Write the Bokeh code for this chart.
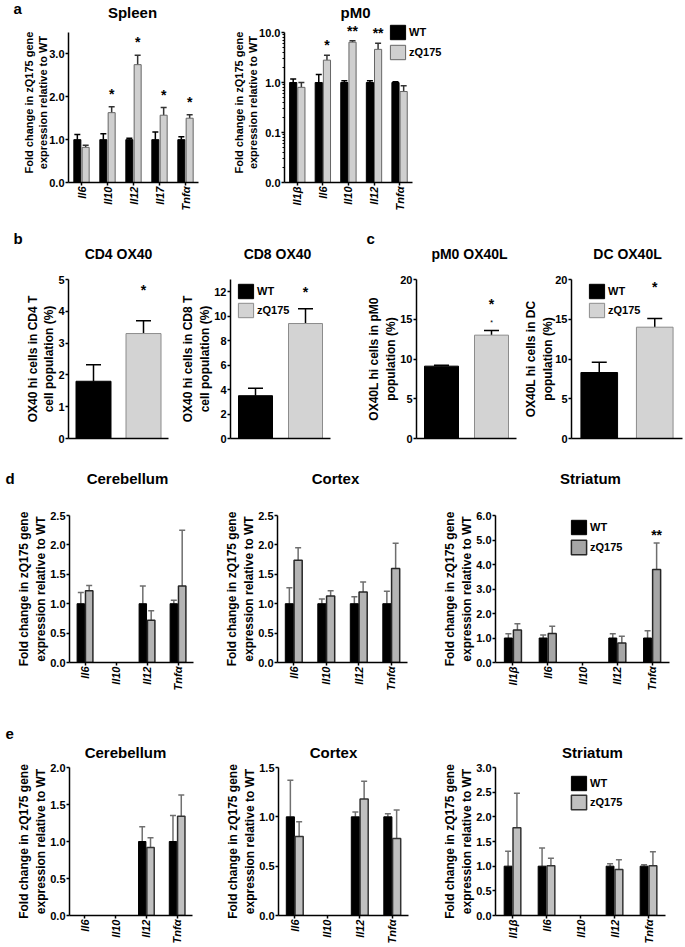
import math
from bokeh.plotting import figure
from bokeh.models import (FactorRange, Range1d, ColumnDataSource, Whisker, TeeHead, Label,
                          LabelSet, Legend, LegendItem, FixedTicker, NumeralTickFormatter)
from bokeh.transform import dodge
from bokeh.layouts import column, row
from bokeh.core.properties import value
from bokeh.embed import file_html
from bokeh.resources import INLINE

FONT = "Liberation Sans"

# ---------------- data ----------------
spleen_genes = ["Il6", "Il10", "Il12", "Il17", "Tnfα"]
spleen_wt = [1.0, 1.0, 1.0, 1.0, 1.0]
spleen_wt_err = [0.12, 0.14, 0.03, 0.18, 0.07]
spleen_zq = [0.82, 1.63, 2.75, 1.57, 1.50]
spleen_zq_err = [0.05, 0.14, 0.22, 0.18, 0.08]
spleen_sig = ["", "*", "*", "*", "*"]

pm0_genes = ["Il1β", "Il6", "Il10", "Il12", "Tnfα"]
pm0_wt = [1.0, 1.0, 1.0, 1.0, 1.0]
pm0_wt_err = [0.18, 0.45, 0.08, 0.08, 0.03]
pm0_zq = [0.80, 2.80, 6.40, 4.60, 0.66]
pm0_zq_err = [0.20, 0.70, 0.40, 1.50, 0.20]
pm0_sig = ["", "*", "**", "**", ""]

groups = ["WT", "zQ175"]
cd4_vals = [1.8, 3.3]
cd4_err = [0.52, 0.40]
cd8_vals = [3.5, 9.4]
cd8_err = [0.60, 1.20]
pm0l_vals = [9.1, 13.0]
pm0l_err = [0.12, 0.60]
dc_vals = [8.3, 14.0]
dc_err = [1.3, 1.1]
bc_sig = ["", "*"]

brain4_genes = ["Il6", "Il10", "Il12", "Tnfα"]
brain5_genes = ["Il1β", "Il6", "Il10", "Il12", "Tnfα"]

d_cer_wt = [1.0, None, 1.0, 1.0]
d_cer_wt_err = [0.19, None, 0.30, 0.06]
d_cer_zq = [1.22, None, 0.72, 1.30]
d_cer_zq_err = [0.09, None, 0.16, 0.95]

d_cor_wt = [1.0, 1.0, 1.0, 1.0]
d_cor_wt_err = [0.27, 0.08, 0.12, 0.21]
d_cor_zq = [1.74, 1.13, 1.20, 1.60]
d_cor_zq_err = [0.21, 0.09, 0.17, 0.43]

d_str_wt = [1.0, 1.0, None, 1.0, 1.0]
d_str_wt_err = [0.17, 0.12, None, 0.17, 0.30]
d_str_zq = [1.33, 1.18, None, 0.80, 3.80]
d_str_zq_err = [0.25, 0.30, None, 0.27, 1.08]
d_str_sig = ["", "", "", "", "**"]

e_cer_wt = [None, None, 1.0, 1.0]
e_cer_wt_err = [None, None, 0.20, 0.35]
e_cer_zq = [None, None, 0.92, 1.34]
e_cer_zq_err = [None, None, 0.13, 0.29]

e_cor_wt = [1.0, None, 1.0, 1.0]
e_cor_wt_err = [0.37, None, 0.05, 0.03]
e_cor_zq = [0.80, None, 1.18, 0.78]
e_cor_zq_err = [0.15, None, 0.18, 0.29]

e_str_wt = [1.0, 1.0, None, 1.0, 1.0]
e_str_wt_err = [0.30, 0.37, None, 0.05, 0.03]
e_str_zq = [1.78, 1.01, None, 0.93, 1.01]
e_str_zq_err = [0.70, 0.15, None, 0.20, 0.28]

FOLD_LABEL = "Fold change in zQ175 gene\nexpression relative to WT"
PAGE_W = 684
STANDOFF = -1


# ---------------- helpers ----------------
def base_fig(x_range, geo, y_range, y_type="linear", ylabel=None, ylabel_size="12px",
             label_standoff=STANDOFF):
    x0, x1, fl, fr, top, bot, ft, fb = geo
    p = figure(x_range=x_range, y_range=y_range, y_axis_type=y_type,
               width=x1 - x0, height=bot - top,
               min_border_left=fl - x0, min_border_right=x1 - fr,
               min_border_top=ft - top, min_border_bottom=bot - fb,
               title=None, output_backend="svg", toolbar_location=None, tools="")
    p.outline_line_color = None
    p.xgrid.visible = False
    p.ygrid.visible = False
    p.background_fill_color = "white"
    p.border_fill_color = "white"
    for ax in (p.xaxis[0], p.yaxis[0]):
        ax.axis_line_width = 1.5
        ax.axis_line_color = "black"
        ax.major_tick_line_width = 1.5
        ax.major_tick_line_color = "black"
        ax.major_tick_in = 0
        ax.major_tick_out = 3
        ax.minor_tick_line_color = None
        ax.major_label_text_font = FONT
        ax.major_label_text_font_style = "bold"
        ax.major_label_text_font_size = "11px"
        ax.major_label_text_color = "black"
        ax.major_label_standoff = 1
    p.xaxis.major_label_orientation = math.pi / 2
    p.xaxis.major_label_text_font_style = "bold italic"
    if ylabel:
        p.yaxis.axis_label = ylabel
        p.yaxis.axis_label_text_font = FONT
        p.yaxis.axis_label_text_font_style = "bold"
        p.yaxis.axis_label_text_font_size = ylabel_size
        p.yaxis.axis_label_text_color = "black"
        p.yaxis.axis_label_standoff = label_standoff
    return p


def strip(top, bottom, texts):
    h = bottom - top
    s = figure(width=PAGE_W, height=h, x_range=Range1d(0, PAGE_W), y_range=Range1d(h, 0),
               x_axis_location=None, y_axis_location=None, min_border=0, title=None,
               output_backend="svg", toolbar_location=None, tools="")
    s.grid.visible = False
    s.outline_line_color = None
    s.background_fill_color = "white"
    s.border_fill_color = "white"
    for txt, px, py, size, align in texts:
        s.add_layout(Label(x=px, y=py - top, text=txt, text_align=align, text_baseline="middle",
                           text_font=FONT, text_font_size=size, text_font_style="bold",
                           text_color="black"))
    return s


def add_legend(p, geo, items, left, bottom, spacing):
    x0, x1, fl, fr, top, bot, ft, fb = geo
    lg = Legend(items=items, location=(left - fl, fb - bottom), orientation="vertical",
                padding=0, margin=0, spacing=spacing, glyph_width=19, glyph_height=18,
                label_height=18, label_standoff=2, border_line_color=None,
                background_fill_alpha=0, label_text_font=FONT, label_text_font_style="bold",
                label_text_font_size="11px", label_text_color="black")
    p.add_layout(lg)


def gene_panel(geo, genes, wt, wt_err, zq, zq_err, y_range, ticks, ylabel, off, bw,
               zq_fill, zq_line, bar_lw, wt_err_color, zq_err_color, cap,
               y_type="linear", fmt="0.0", sig=None, sig_off=0, ylabel_size="12px",
               bottom=0, label_standoff=STANDOFF, extra_factors=0):
    factors = list(genes) + ["_%d" % k for k in range(extra_factors)]
    p = base_fig(FactorRange(factors=factors), geo, y_range, y_type, ylabel, ylabel_size,
                 label_standoff)
    if extra_factors:
        p.xaxis.bounds = (0, len(genes))
        p.xaxis.major_label_overrides = {f: "" for f in factors[len(genes):]}
    keep = [i for i, v in enumerate(wt) if v is not None]
    src = ColumnDataSource(dict(
        cat=[genes[i] for i in keep],
        wt=[wt[i] for i in keep],
        wt_hi=[wt[i] + wt_err[i] for i in keep],
        zq=[zq[i] for i in keep],
        zq_hi=[zq[i] + zq_err[i] for i in keep],
    ))
    r1 = p.vbar(x=dodge("cat", -off, range=p.x_range), top="wt", bottom=bottom, width=bw,
                source=src, fill_color="black", line_color="black", line_width=1)
    r2 = p.vbar(x=dodge("cat", off, range=p.x_range), top="zq", bottom=bottom, width=bw,
                source=src, fill_color=zq_fill, line_color=zq_line, line_width=bar_lw)
    for o, lo, hi, col in ((-off, "wt", "wt_hi", wt_err_color), (off, "zq", "zq_hi", zq_err_color)):
        w = Whisker(base=dodge("cat", o, range=p.x_range), lower=lo, upper=hi, source=src,
                    dimension="height", line_color=col, line_width=1.5, lower_head=None,
                    upper_head=TeeHead(size=cap, line_color=col, line_width=1.5))
        p.add_layout(w)
    if y_type == "linear":
        p.yaxis.ticker = FixedTicker(ticks=ticks)
        p.yaxis.formatter = NumeralTickFormatter(format=fmt)
    if sig is not None:
        sk = [i for i, s in enumerate(sig) if s]
        ssrc = ColumnDataSource(dict(cat=[genes[i] for i in sk],
                                     hi=[zq[i] + zq_err[i] for i in sk],
                                     txt=[sig[i] for i in sk]))
        p.add_layout(LabelSet(x=dodge("cat", off, range=p.x_range), y="hi", text="txt",
                              source=ssrc, y_offset=sig_off, text_align="center",
                              text_baseline="middle", text_font=value(FONT),
                              text_font_size="14px", text_font_style="bold",
                              text_color="black"))
    return p, r1, r2


def group_panel(geo, vals, errs, y_max, ticks, ylabel, bw, cap, sig_off,
                label_standoff=STANDOFF, extra_mark=None):
    p = base_fig(FactorRange(factors=groups), geo, Range1d(0, y_max), "linear", ylabel,
                 "12px", label_standoff)
    src = ColumnDataSource(dict(cat=groups, val=vals, hi=[v + e for v, e in zip(vals, errs)],
                                fill=["black", "#d3d3d3"], line=["black", "#8c8c8c"]))
    r = p.vbar(x="cat", top="val", width=bw, source=src, fill_color="fill", line_color="line",
               line_width=1)
    p.add_layout(Whisker(base="cat", lower="val", upper="hi", source=src, dimension="height",
                         line_color="black", line_width=1.5, lower_head=None,
                         upper_head=TeeHead(size=cap, line_color="black", line_width=1.5)))
    p.yaxis.ticker = FixedTicker(ticks=ticks)
    p.xaxis.ticker = FixedTicker(ticks=[])
    p.xaxis.major_tick_line_color = None
    sk = [i for i, s in enumerate(bc_sig) if s]
    ssrc = ColumnDataSource(dict(cat=[groups[i] for i in sk],
                                 hi=[vals[i] + errs[i] for i in sk],
                                 sig=[bc_sig[i] for i in sk]))
    p.add_layout(LabelSet(x="cat", y="hi", text="sig", source=ssrc, y_offset=sig_off,
                          text_align="center", text_baseline="middle", text_font=value(FONT),
                          text_font_size="14px", text_font_style="bold", text_color="black"))
    if extra_mark is not None:
        p.add_layout(LabelSet(x="cat", y="hi", text="sig", source=ssrc, y_offset=extra_mark,
                              text_align="center", text_baseline="middle",
                              text_font=value(FONT), text_font_size="7px",
                              text_color="black"))
    items = [LegendItem(label=groups[0], renderers=[r], index=0),
             LegendItem(label=groups[1], renderers=[r], index=1)]
    return p, items


# ---------------- geometry (page pixels) ----------------
# (fig left, fig right, frame left, frame right, row top, row bottom, frame top, frame bottom)
G_SPL = (0, 220, 68, 198, 22, 230, 22, 182)
G_PM0 = (220, 470, 284, 463, 22, 230, 22, 182)
G_CD4 = (0, 178, 68, 168, 268, 470, 279, 438)
G_CD8 = (178, 345, 225, 330, 268, 470, 279, 438)
G_PML = (345, 521, 416, 516, 268, 470, 279, 438)
G_DC = (521, 684, 565, 682, 268, 470, 279, 438)
G_DCE = (0, 215, 69, 193, 490, 705, 515, 662)
G_DCO = (215, 440, 277, 407, 490, 705, 515, 662)
G_DST = (440, 684, 494, 669, 490, 705, 515, 662)
G_ECE = (0, 215, 69, 192, 762, 946, 767, 917)
G_ECO = (215, 440, 278, 408, 762, 946, 767, 917)
G_EST = (440, 684, 492, 665, 762, 946, 767, 917)

# ---------------- panel a ----------------
strip_a = strip(0, 22, [("a", 13, 8, "15px", "left"),
                        ("Spleen", 132, 12, "15px", "center"),
                        ("pM0", 355, 12, "15px", "center")])

# frame runs 10 px above the 3.5 axis top (so both panel-a frames share one top edge)
p_spl, _, _ = gene_panel(G_SPL, spleen_genes, spleen_wt, spleen_wt_err, spleen_zq, spleen_zq_err,
                         Range1d(0, 3.5 * 160 / 150), [0, 1, 2, 3], FOLD_LABEL, 0.16, 0.27,
                         "#cfcfcf", "#666666", 1, "black", "#333333", 6,
                         sig=spleen_sig, sig_off=13, ylabel_size="11px", label_standoff=-3)
p_spl.yaxis.bounds = (0, 3.5)

p_pm0, r1, r2 = gene_panel(G_PM0, pm0_genes, pm0_wt, pm0_wt_err, pm0_zq, pm0_zq_err,
                           Range1d(0.01, 10 ** 1.2), None, FOLD_LABEL, 0.16, 0.28,
                           "#cfcfcf", "#666666", 1, "black", "#333333", 6,
                           y_type="log", sig=pm0_sig, sig_off=10, ylabel_size="11px",
                           bottom=0.01, extra_factors=2, label_standoff=-3)
p_pm0.yaxis.bounds = (0.01, 10)
p_pm0.yaxis.ticker = FixedTicker(
    ticks=[0.01, 0.1, 1, 10],
    minor_ticks=[k * 10.0 ** e for e in (-2, -1, 0) for k in range(2, 10)])
p_pm0.yaxis.major_label_overrides = {0.01: "0.0", 0.1: "0.1", 1: "1.0", 10: "10.0"}
p_pm0.yaxis.minor_tick_line_color = "black"
p_pm0.yaxis.minor_tick_out = 2
p_pm0.yaxis.minor_tick_in = 0
add_legend(p_pm0, G_PM0, [LegendItem(label="WT", renderers=[r1]),
                          LegendItem(label="zQ175", renderers=[r2])], 388, 61, 2)

# ---------------- panels b, c ----------------
strip_b = strip(230, 268, [("b", 13, 238, "15px", "left"),
                           ("c", 366, 238, "15px", "left"),
                           ("CD4 OX40", 118, 253, "14px", "center"),
                           ("CD8 OX40", 277, 253, "14px", "center"),
                           ("pM0 OX40L", 469, 253, "14px", "center"),
                           ("DC OX40L", 627, 253, "14px", "center")])

p_cd4, _ = group_panel(G_CD4, cd4_vals, cd4_err, 5, [0, 1, 2, 3, 4, 5],
                       "OX40 hi cells in CD4 T\ncell population (%)", 0.7, 15, 31)
p_cd8, it = group_panel(G_CD8, cd8_vals, cd8_err, 13, [0, 2, 4, 6, 8, 10, 12],
                        "OX40 hi cells in CD8 T\ncell population (%)", 0.68, 15, 17)
add_legend(p_cd8, G_CD8, it, 231, 319, 1)
p_pml, _ = group_panel(G_PML, pm0l_vals, pm0l_err, 20, [0, 5, 10, 15, 20],
                       "OX40L hi cells in pM0\npopulation (%)", 0.68, 15, 26, extra_mark=8)
p_dc, it = group_panel(G_DC, dc_vals, dc_err, 20, [0, 5, 10, 15, 20],
                       "OX40L hi cells in DC\npopulation (%)", 0.66, 15, 31,
                       label_standoff=-3)
add_legend(p_dc, G_DC, it, 581, 319, 1)

# ---------------- panel d ----------------
strip_d = strip(470, 490, [("d", 5, 478, "15px", "left"),
                           ("Cerebellum", 127, 478, "15px", "center"),
                           ("Cortex", 335, 478, "15px", "center"),
                           ("Striatum", 590, 478, "15px", "center")])

tick25 = [0, 0.5, 1.0, 1.5, 2.0, 2.5]
p_dce, _, _ = gene_panel(G_DCE, brain4_genes, d_cer_wt, d_cer_wt_err, d_cer_zq, d_cer_zq_err,
                         Range1d(0, 2.5), tick25, FOLD_LABEL, 0.135, 0.24,
                         "#b4b4b4", "#262626", 1.5, "#6e6e6e", "#6e6e6e", 6)
p_dco, _, _ = gene_panel(G_DCO, brain4_genes, d_cor_wt, d_cor_wt_err, d_cor_zq, d_cor_zq_err,
                         Range1d(0, 2.5), tick25, FOLD_LABEL, 0.135, 0.25,
                         "#b4b4b4", "#262626", 1.5, "#6e6e6e", "#6e6e6e", 6)
p_dst, r1, r2 = gene_panel(G_DST, brain5_genes, d_str_wt, d_str_wt_err, d_str_zq, d_str_zq_err,
                           Range1d(0, 6), [0, 1, 2, 3, 4, 5, 6], FOLD_LABEL, 0.13, 0.23,
                           "#a6a6a6", "#262626", 1.5, "#6e6e6e", "#6e6e6e", 6,
                           sig=d_str_sig, sig_off=8)
add_legend(p_dst, G_DST, [LegendItem(label="WT", renderers=[r1]),
                          LegendItem(label="zQ175", renderers=[r2])], 568, 556, 2)

# ---------------- panel e ----------------
strip_e = strip(705, 762, [("e", 5, 733, "15px", "left"),
                           ("Cerebellum", 125, 752, "15px", "center"),
                           ("Cortex", 333, 752, "15px", "center"),
                           ("Striatum", 592, 752, "15px", "center")])

p_ece, _, _ = gene_panel(G_ECE, brain4_genes, e_cer_wt, e_cer_wt_err, e_cer_zq, e_cer_zq_err,
                         Range1d(0, 2.0), [0, 0.5, 1.0, 1.5, 2.0], FOLD_LABEL, 0.135, 0.24,
                         "#c0c0c0", "#333333", 1.5, "#707070", "#707070", 6)
p_eco, _, _ = gene_panel(G_ECO, brain4_genes, e_cor_wt, e_cor_wt_err, e_cor_zq, e_cor_zq_err,
                         Range1d(0, 1.5), [0, 0.5, 1.0, 1.5], FOLD_LABEL, 0.135, 0.25,
                         "#c0c0c0", "#333333", 1.5, "#707070", "#707070", 6)
p_est, r1, r2 = gene_panel(G_EST, brain5_genes, e_str_wt, e_str_wt_err, e_str_zq, e_str_zq_err,
                           Range1d(0, 3.0), [0, 0.5, 1.0, 1.5, 2.0, 2.5, 3.0], FOLD_LABEL,
                           0.13, 0.23, "#c0c0c0", "#333333", 1.5, "#707070", "#707070", 6)
add_legend(p_est, G_EST, [LegendItem(label="WT", renderers=[r1]),
                          LegendItem(label="zQ175", renderers=[r2])], 566, 813, 1)

layout = column(
    strip_a,
    row(p_spl, p_pm0, spacing=0),
    strip_b,
    row(p_cd4, p_cd8, p_pml, p_dc, spacing=0),
    strip_d,
    row(p_dce, p_dco, p_dst, spacing=0),
    strip_e,
    row(p_ece, p_eco, p_est, spacing=0),
    spacing=0,
)

open("out.html", "w").write(file_html(layout, INLINE, title="zQ175 cytokine expression"))
